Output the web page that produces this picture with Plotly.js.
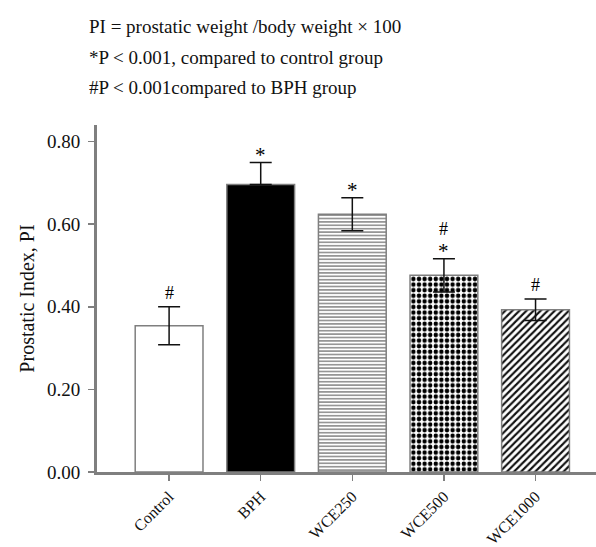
<!DOCTYPE html>
<html>
<head>
<meta charset="utf-8">
<script src="https://cdn.plot.ly/plotly-3.0.1.min.js"></script>
<style>html,body{margin:0;padding:0;background:#fff;}#chart{width:596px;height:547px;}</style>
</head>
<body>
<div id="chart"></div>
<script>
// ---- data ----
const categories = ["Control", "BPH", "WCE250", "WCE500", "WCE1000"];
const piValues = [0.354, 0.696, 0.624, 0.476, 0.393];
const piErrorsUp = [0.046, 0.053, 0.040, 0.040, 0.026];
const piErrorsDown = [0.046, 0.0, 0.040, 0.040, 0.026];
const sigUpper = ["", "", "", "#", ""];
const sigLower = ["#", "*", "*", "*", "#"];
const yTickValues = [0, 0.2, 0.4, 0.6, 0.8];
const yTickLabels = ["0.00", "0.20", "0.40", "0.60", "0.80"];
const noteLines = [
  "PI = prostatic weight /body weight × 100",
  "*P < 0.001, compared to control group",
  "#P < 0.001compared to BPH group"
];

// ---- styles ----
const FONT = "Liberation Serif, Times New Roman, serif";
const GREY = "#7f7f7f";
const fillShapes = ["", "", "-", ".", "/"];
const fillColors = ["#ffffff", "#000000", "#ffffff", "#ffffff", "#ffffff"];
const fgColors = ["#000000", "#000000", "#8a8a8a", "#000000", "#111111"];
const patSizes = [6, 6, 3.4, 5.6, 5];
const patSolid = [0.3, 0.3, 0.45, 0.5, 0.42];

const traces = categories.map((c, i) => {
  const marker = { color: fillColors[i], line: { color: GREY, width: 1.5 } };
  if (fillShapes[i]) {
    marker.pattern = { shape: fillShapes[i], fgcolor: fgColors[i], bgcolor: fillColors[i],
      size: patSizes[i], solidity: patSolid[i], fillmode: "replace" };
  }
  return {
    type: "bar",
    x: [c],
    y: [piValues[i]],
    width: 0.74,
    error_y: { type: "data", array: [piErrorsUp[i]], arrayminus: [piErrorsDown[i]], symmetric: false,
      visible: true, color: "#111", thickness: 1.5, width: 11 },
    marker: marker,
    hoverinfo: "skip"
  };
});

const annotations = [];
categories.forEach((c, i) => {
  const top = piValues[i] + piErrorsUp[i];
  const isStar = sigLower[i] === "*";
  if (sigLower[i]) annotations.push({ x: c, y: top, xref: "x", yref: "y", text: sigLower[i], showarrow: false,
    yanchor: "bottom", yshift: isStar ? -6 : 2, font: { family: FONT, size: isStar ? 21 : 18, color: "#000" } });
  if (sigUpper[i]) annotations.push({ x: c, y: top, xref: "x", yref: "y", text: sigUpper[i], showarrow: false,
    yanchor: "bottom", yshift: 18, font: { family: FONT, size: 18, color: "#000" } });
});
// note lines positioned in paper coordinates (plot area: x 97..596, y 125..472)
const noteY = [27, 58, 88];
noteLines.forEach((t, i) => {
  annotations.push({ x: (87 - 97) / 499, y: (472 - noteY[i]) / 347, xref: "paper", yref: "paper", text: t,
    showarrow: false, xanchor: "left", yanchor: "middle", font: { family: FONT, size: 19, color: "#111" } });
});

const layout = {
  width: 596, height: 547,
  margin: { l: 97, r: 0, t: 125, b: 75 },
  paper_bgcolor: "#fff", plot_bgcolor: "#fff",
  showlegend: false,
  barmode: "overlay",
  font: { family: FONT, size: 16, color: "#111" },
  xaxis: {
    type: "category",
    categoryarray: categories, categoryorder: "array",
    range: [-0.787, 4.66],
    showline: true, linecolor: GREY, linewidth: 3,
    ticks: "outside", ticklen: 6, tickwidth: 1.5, tickcolor: GREY,
    tickangle: -45,
    tickfont: { family: FONT, size: 16, color: "#111" },
    showgrid: false, zeroline: false, fixedrange: true
  },
  yaxis: {
    range: [0, 0.84],
    tickvals: yTickValues, ticktext: yTickLabels,
    showline: true, linecolor: GREY, linewidth: 3,
    ticks: "outside", ticklen: 6, tickwidth: 1.5, tickcolor: GREY,
    ticklabelstandoff: 4,
    tickfont: { family: FONT, size: 19, color: "#111" },
    showgrid: false, zeroline: false, fixedrange: true,
    title: { text: "Prostatic Index, PI", font: { family: FONT, size: 20, color: "#111" }, standoff: 7 }
  },
  annotations: annotations
};

Plotly.newPlot("chart", traces, layout, { displayModeBar: false, staticPlot: true });
</script>
</body>
</html>
